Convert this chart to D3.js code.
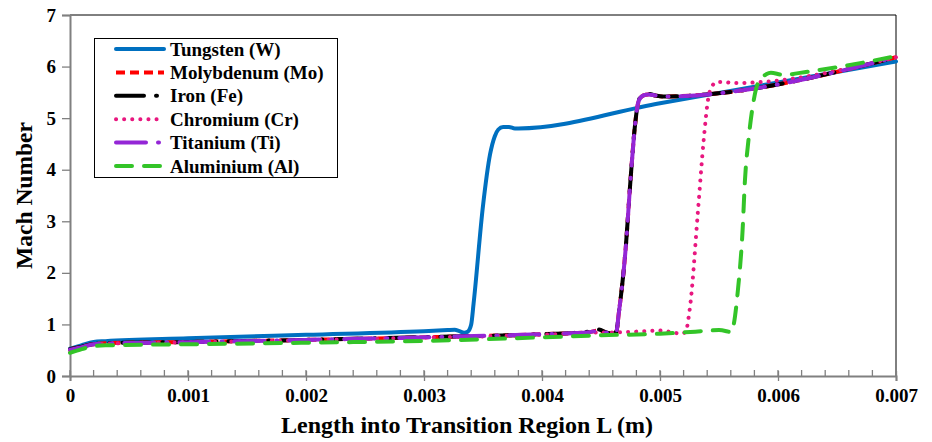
<!DOCTYPE html>
<html>
<head>
<meta charset="utf-8">
<script src="https://cdn.jsdelivr.net/npm/d3@7"></script>
<style>
  html, body { margin: 0; padding: 0; background: #fff; }
  svg { display: block; }
  text { font-family: "Liberation Serif", "Times New Roman", serif; font-weight: bold; fill: #000; }
</style>
</head>
<body>
<svg id="chart" width="932" height="442"></svg>
<script>
// Mach number along the transition region for each wall material: [L (m), Mach]
const tungsten = [[0,0.53],[0.0001,0.60],[0.0002,0.66],[0.0003,0.675],[0.001,0.73],[0.002,0.80],[0.003,0.87],[0.0032,0.89],[0.00326,0.895],[0.0033,0.87],[0.00334,0.84],[0.00337,0.86],[0.0034,1.0],[0.00342,1.4],[0.0035,3.3],[0.00356,4.3],[0.0036,4.65],[0.00363,4.78],[0.00367,4.83],[0.00372,4.83],[0.00377,4.80],[0.0038,4.80],[0.005,5.29],[0.006,5.69],[0.007,6.10]];
const molybdenum = [[0,0.52],[0.0001,0.57],[0.0002,0.62],[0.0003,0.635],[0.001,0.66],[0.002,0.70],[0.003,0.75],[0.004,0.81],[0.0044,0.85],[0.00448,0.88],[0.00455,0.84],[0.0046,0.82],[0.00463,0.86],[0.00465,1.2],[0.00471,2.5],[0.00475,3.8],[0.00479,4.9],[0.00482,5.33],[0.00486,5.44],[0.0049,5.46],[0.00496,5.44],[0.00502,5.42],[0.007,6.18]];
const iron = [[0,0.52],[0.0001,0.57],[0.0002,0.62],[0.0003,0.635],[0.001,0.66],[0.002,0.70],[0.003,0.755],[0.004,0.81],[0.0044,0.86],[0.00448,0.90],[0.00455,0.84],[0.0046,0.82],[0.00463,0.86],[0.00465,1.2],[0.00471,2.5],[0.00475,3.8],[0.00479,4.9],[0.00482,5.35],[0.00486,5.45],[0.0049,5.47],[0.00496,5.44],[0.00502,5.42],[0.007,6.18]];
const chromium = [[0,0.50],[0.0001,0.56],[0.0002,0.61],[0.0003,0.625],[0.001,0.655],[0.002,0.695],[0.003,0.745],[0.004,0.80],[0.0044,0.84],[0.0047,0.85],[0.005,0.88],[0.0051,0.85],[0.00518,0.82],[0.00522,0.86],[0.00524,1.1],[0.00526,1.45],[0.00532,3.15],[0.00537,4.57],[0.00541,5.4],[0.00545,5.65],[0.00548,5.70],[0.00554,5.70],[0.00563,5.68],[0.007,6.18]];
const titanium = [[0,0.51],[0.0001,0.56],[0.0002,0.615],[0.0003,0.63],[0.001,0.655],[0.002,0.70],[0.003,0.75],[0.0037,0.79],[0.004,0.81],[0.0044,0.85],[0.00448,0.88],[0.00455,0.84],[0.0046,0.82],[0.00463,0.86],[0.00465,1.2],[0.00471,2.5],[0.00475,3.8],[0.00479,4.9],[0.00482,5.34],[0.00486,5.44],[0.0049,5.46],[0.00496,5.44],[0.00502,5.42],[0.007,6.18]];
const aluminium = [[0,0.45],[0.0001,0.52],[0.0002,0.58],[0.0003,0.595],[0.001,0.615],[0.002,0.645],[0.003,0.68],[0.004,0.75],[0.0045,0.79],[0.005,0.82],[0.0053,0.86],[0.0055,0.89],[0.00558,0.86],[0.0056,0.85],[0.00562,0.95],[0.00566,1.66],[0.0057,2.83],[0.00572,3.8],[0.00575,4.58],[0.00579,5.29],[0.00583,5.68],[0.0059,5.85],[0.00594,5.88],[0.00604,5.84],[0.00625,5.90],[0.007,6.20]];

const seriesNames = ["Tungsten (W)", "Molybdenum (Mo)", "Iron (Fe)", "Chromium (Cr)", "Titanium (Ti)", "Aluminium (Al)"];
const xTicks = [0, 0.001, 0.002, 0.003, 0.004, 0.005, 0.006, 0.007];
const xTickLabels = ["0", "0.001", "0.002", "0.003", "0.004", "0.005", "0.006", "0.007"];
const yTicks = [0, 1, 2, 3, 4, 5, 6, 7];
const xTitle = "Length into Transition Region L (m)";
const yTitle = "Mach Number";

const seriesData = [tungsten, molybdenum, iron, chromium, titanium, aluminium];
const styles = [
  { color: "#0070C0", dash: null, cap: "round" },
  { color: "#FF0000", dash: "9,5", cap: "butt" },
  { color: "#000000", dash: "28,12,1,12", cap: "round" },
  { color: "#E8177F", dash: "0.1,8", cap: "round" },
  { color: "#9426D6", dash: "30,12,1,12", cap: "round" },
  { color: "#33C428", dash: "16,12", cap: "round" }
];

const svg = d3.select("#chart");
const m = { left: 70, right: 36, top: 15, bottom: 66 };
const W = 932, H = 442;

const x = d3.scaleLinear().domain([0, 0.007]).range([m.left, W - m.right]);
const y = d3.scaleLinear().domain([0, 7]).range([H - m.bottom, m.top]);

// frame: top and right edges
svg.append("line").attr("x1", x(0)).attr("x2", x(0.007)).attr("y1", y(7)).attr("y2", y(7))
  .attr("stroke", "#000").attr("stroke-width", 1);
svg.append("line").attr("x1", x(0.007)).attr("x2", x(0.007)).attr("y1", y(7)).attr("y2", y(0))
  .attr("stroke", "#000").attr("stroke-width", 1);

// x axis: minor ticks pointing inward, major ticks crossing the axis
const xMinor = d3.range(0, 36).map(i => i * 0.0002);
svg.append("g").selectAll("line").data(xMinor).join("line")
  .attr("x1", d => x(d)).attr("x2", d => x(d))
  .attr("y1", y(0)).attr("y2", y(0) - 6)
  .attr("stroke", "#808080").attr("stroke-width", 1.3);
const xAxis = d3.axisBottom(x).tickValues(xTicks).tickFormat((d, i) => xTickLabels[i]).tickSize(5).tickPadding(8);
const gx = svg.append("g").attr("transform", `translate(0,${y(0)})`).call(xAxis);
gx.select(".domain").attr("stroke", "#808080").attr("stroke-width", 2);
gx.selectAll(".tick line").attr("stroke", "#808080").attr("stroke-width", 1.3).attr("y1", -5);
gx.selectAll(".tick text").attr("font-size", 19).attr("font-family", "Liberation Serif").attr("font-weight", "bold").attr("fill", "#000");

// y axis
const yAxis = d3.axisLeft(y).tickValues(yTicks).tickFormat(d3.format("d")).tickSize(8).tickPadding(6);
const gy = svg.append("g").attr("transform", `translate(${x(0)},0)`).call(yAxis);
gy.select(".domain").attr("stroke", "#808080").attr("stroke-width", 2);
gy.selectAll(".tick line").attr("stroke", "#808080").attr("stroke-width", 1.3);
gy.selectAll(".tick text").attr("font-size", 19).attr("font-family", "Liberation Serif").attr("font-weight", "bold").attr("fill", "#000");

// axis titles
svg.append("text").attr("x", 467).attr("y", 433)
  .attr("text-anchor", "middle").attr("font-size", 24).text(xTitle);
svg.append("text").attr("transform", `translate(32,${(y(0) + y(7)) / 2}) rotate(-90)`)
  .attr("text-anchor", "middle").attr("font-size", 23.5).text(yTitle);

// curves
const line = d3.line().x(d => x(d[0])).y(d => y(d[1])).curve(d3.curveMonotoneX);
const plot = svg.append("g");
seriesData.forEach((data, i) => {
  const s = styles[i];
  plot.append("path").datum(data).attr("d", line)
    .attr("fill", "none").attr("stroke", s.color).attr("stroke-width", 4)
    .attr("stroke-linecap", s.cap).attr("stroke-linejoin", "round")
    .attr("stroke-dasharray", s.dash);
});

// legend
const lg = svg.append("g");
lg.append("rect").attr("x", 94.5).attr("y", 38.5).attr("width", 243).attr("height", 139)
  .attr("fill", "#fff").attr("stroke", "#000").attr("stroke-width", 1);
seriesNames.forEach((name, i) => {
  const cy = 49 + i * 23.4;
  const s = styles[i];
  lg.append("line").attr("x1", 116).attr("x2", 164).attr("y1", cy).attr("y2", cy)
    .attr("stroke", s.color).attr("stroke-width", 4)
    .attr("stroke-linecap", s.cap).attr("stroke-dasharray", s.dash);
  lg.append("text").attr("x", 170).attr("y", cy + 6.5).attr("font-size", 19).text(name);
});
</script>
</body>
</html>
